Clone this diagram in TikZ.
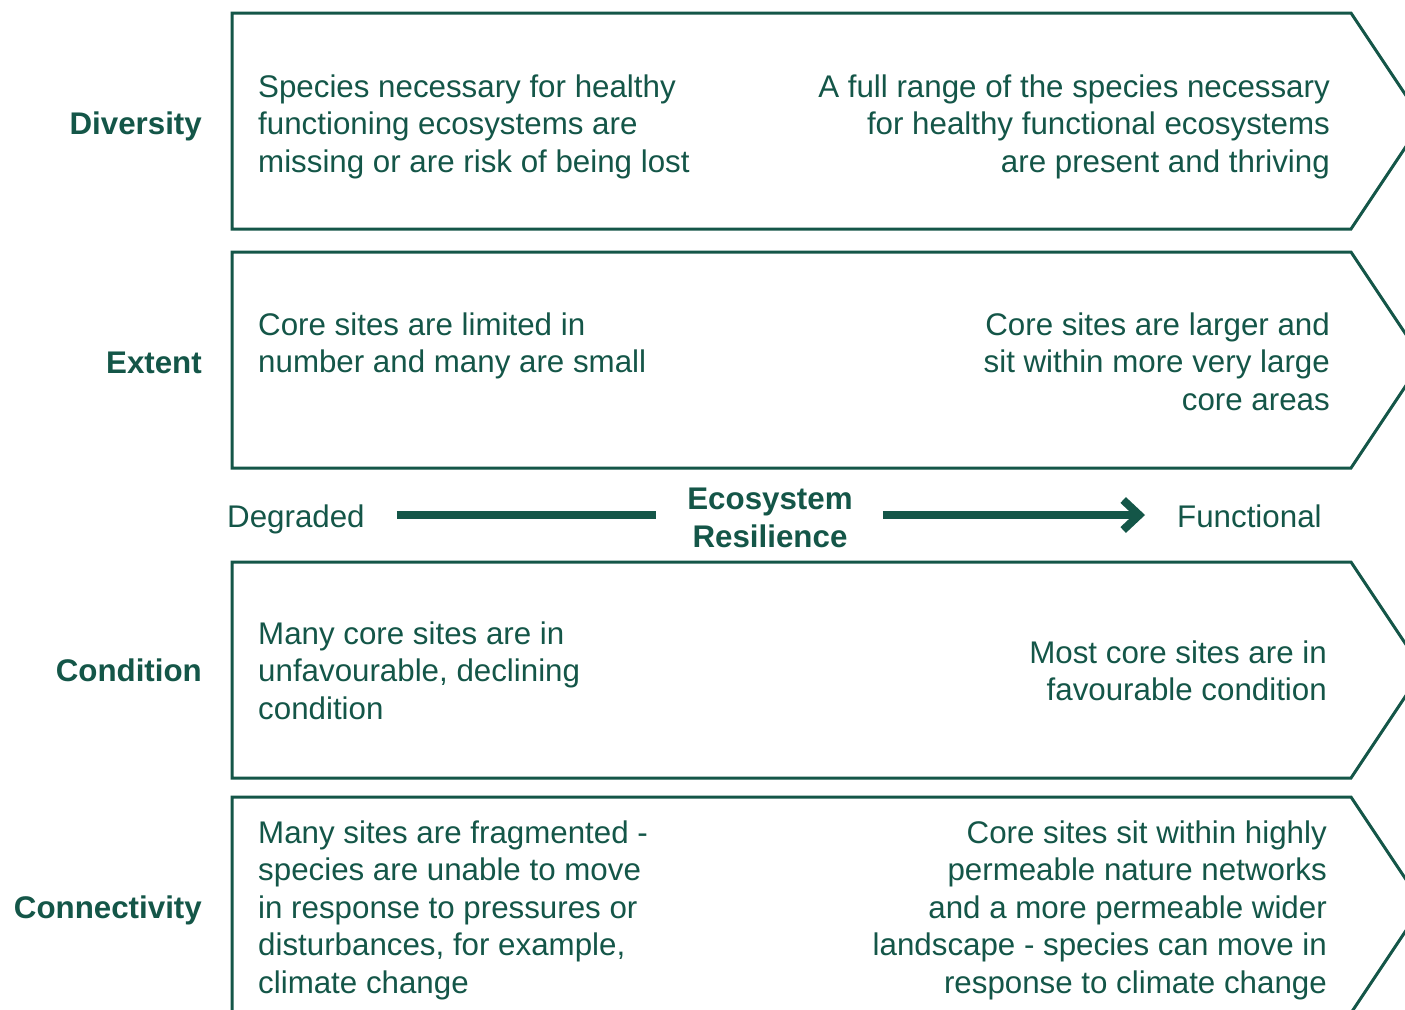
\documentclass[tikz,border=0pt]{standalone}
\usepackage{fontspec}
\setmainfont{Liberation Sans}
\usepackage{xcolor}
\usetikzlibrary{arrows.meta,positioning}
\definecolor{ecogreen}{RGB}{20,86,72}
\tikzset{
    chevron/.style={draw=ecogreen, line width=3pt, line join=miter},
    body/.style={text=ecogreen, inner sep=0pt, font=\fontsize{31.3}{37.5}\selectfont},
    rowlabel/.style={body, font=\fontsize{31.3}{37.5}\selectfont\bfseries, anchor=base east},
    lefttext/.style={body, align=left, anchor=base west},
    righttext/.style={body, align=right, anchor=base east},
    resline/.style={draw=ecogreen, line width=8pt},
}

\begin{document}
\begin{tikzpicture}[x=1pt,y=-1pt]
    \clip (0,0) rectangle (1405,1009);
    \fill[white] (0,0) rectangle (1405,1009);
    \foreach \t in {13,252,562,797}
        \draw[chevron] (232,\t)--(1351,\t)--(1423,\t+108)--(1351,\t+216)--(232,\t+216)--cycle;
    \node[rowlabel] (diversity) at (202,134) {Diversity};
    \node[lefttext] (divL) at (258,172) {Species necessary for healthy\\functioning ecosystems are\\missing or are risk of being lost};
    \node[righttext] (divR) at (1330,172) {A full range of the species necessary\\for healthy functional ecosystems\\are present and thriving};
    \node[rowlabel] (extent) at (202,373) {Extent};
    \node[lefttext] (extL) at (258,372.5) {Core sites are limited in\\number and many are small};
    \node[righttext] (extR) at (1330,410) {Core sites are larger and\\sit within more very large\\core areas};
    \node[body, anchor=base west] (degr) at (227,527) {Degraded};
    \node[body, font=\fontsize{31.3}{37.5}\selectfont\bfseries, align=center, anchor=base] (eco) at (770,547) {Ecosystem\\Resilience};
    \node[body, anchor=base west] (func) at (1177,527) {Functional};
    \draw[resline, shorten <=32pt, shorten >=31pt] (degr.east |- 0,515) -- (eco.west |- 0,515);
    \draw[resline, shorten <=30pt, shorten >=32pt, -{Straight Barb[length=16pt,width=30pt,line width=8pt]}] (eco.east |- 0,515) -- (func.west |- 0,515);
    \node[rowlabel] (condition) at (202,681) {Condition};
    \node[lefttext] (conL) at (258,719) {Many core sites are in\\unfavourable, declining\\condition};
    \node[righttext] (conR) at (1327,700.5) {Most core sites are in\\favourable condition};
    \node[rowlabel] (connect) at (202,918) {Connectivity};
    \node[lefttext] (cnnL) at (258,993) {Many sites are fragmented -\\species are unable to move\\in response to pressures or\\disturbances, for example,\\climate change};
    \node[righttext] (cnnR) at (1327,993) {Core sites sit within highly\\permeable nature networks\\and a more permeable wider\\landscape - species can move in\\response to climate change};
\end{tikzpicture}
\end{document}
